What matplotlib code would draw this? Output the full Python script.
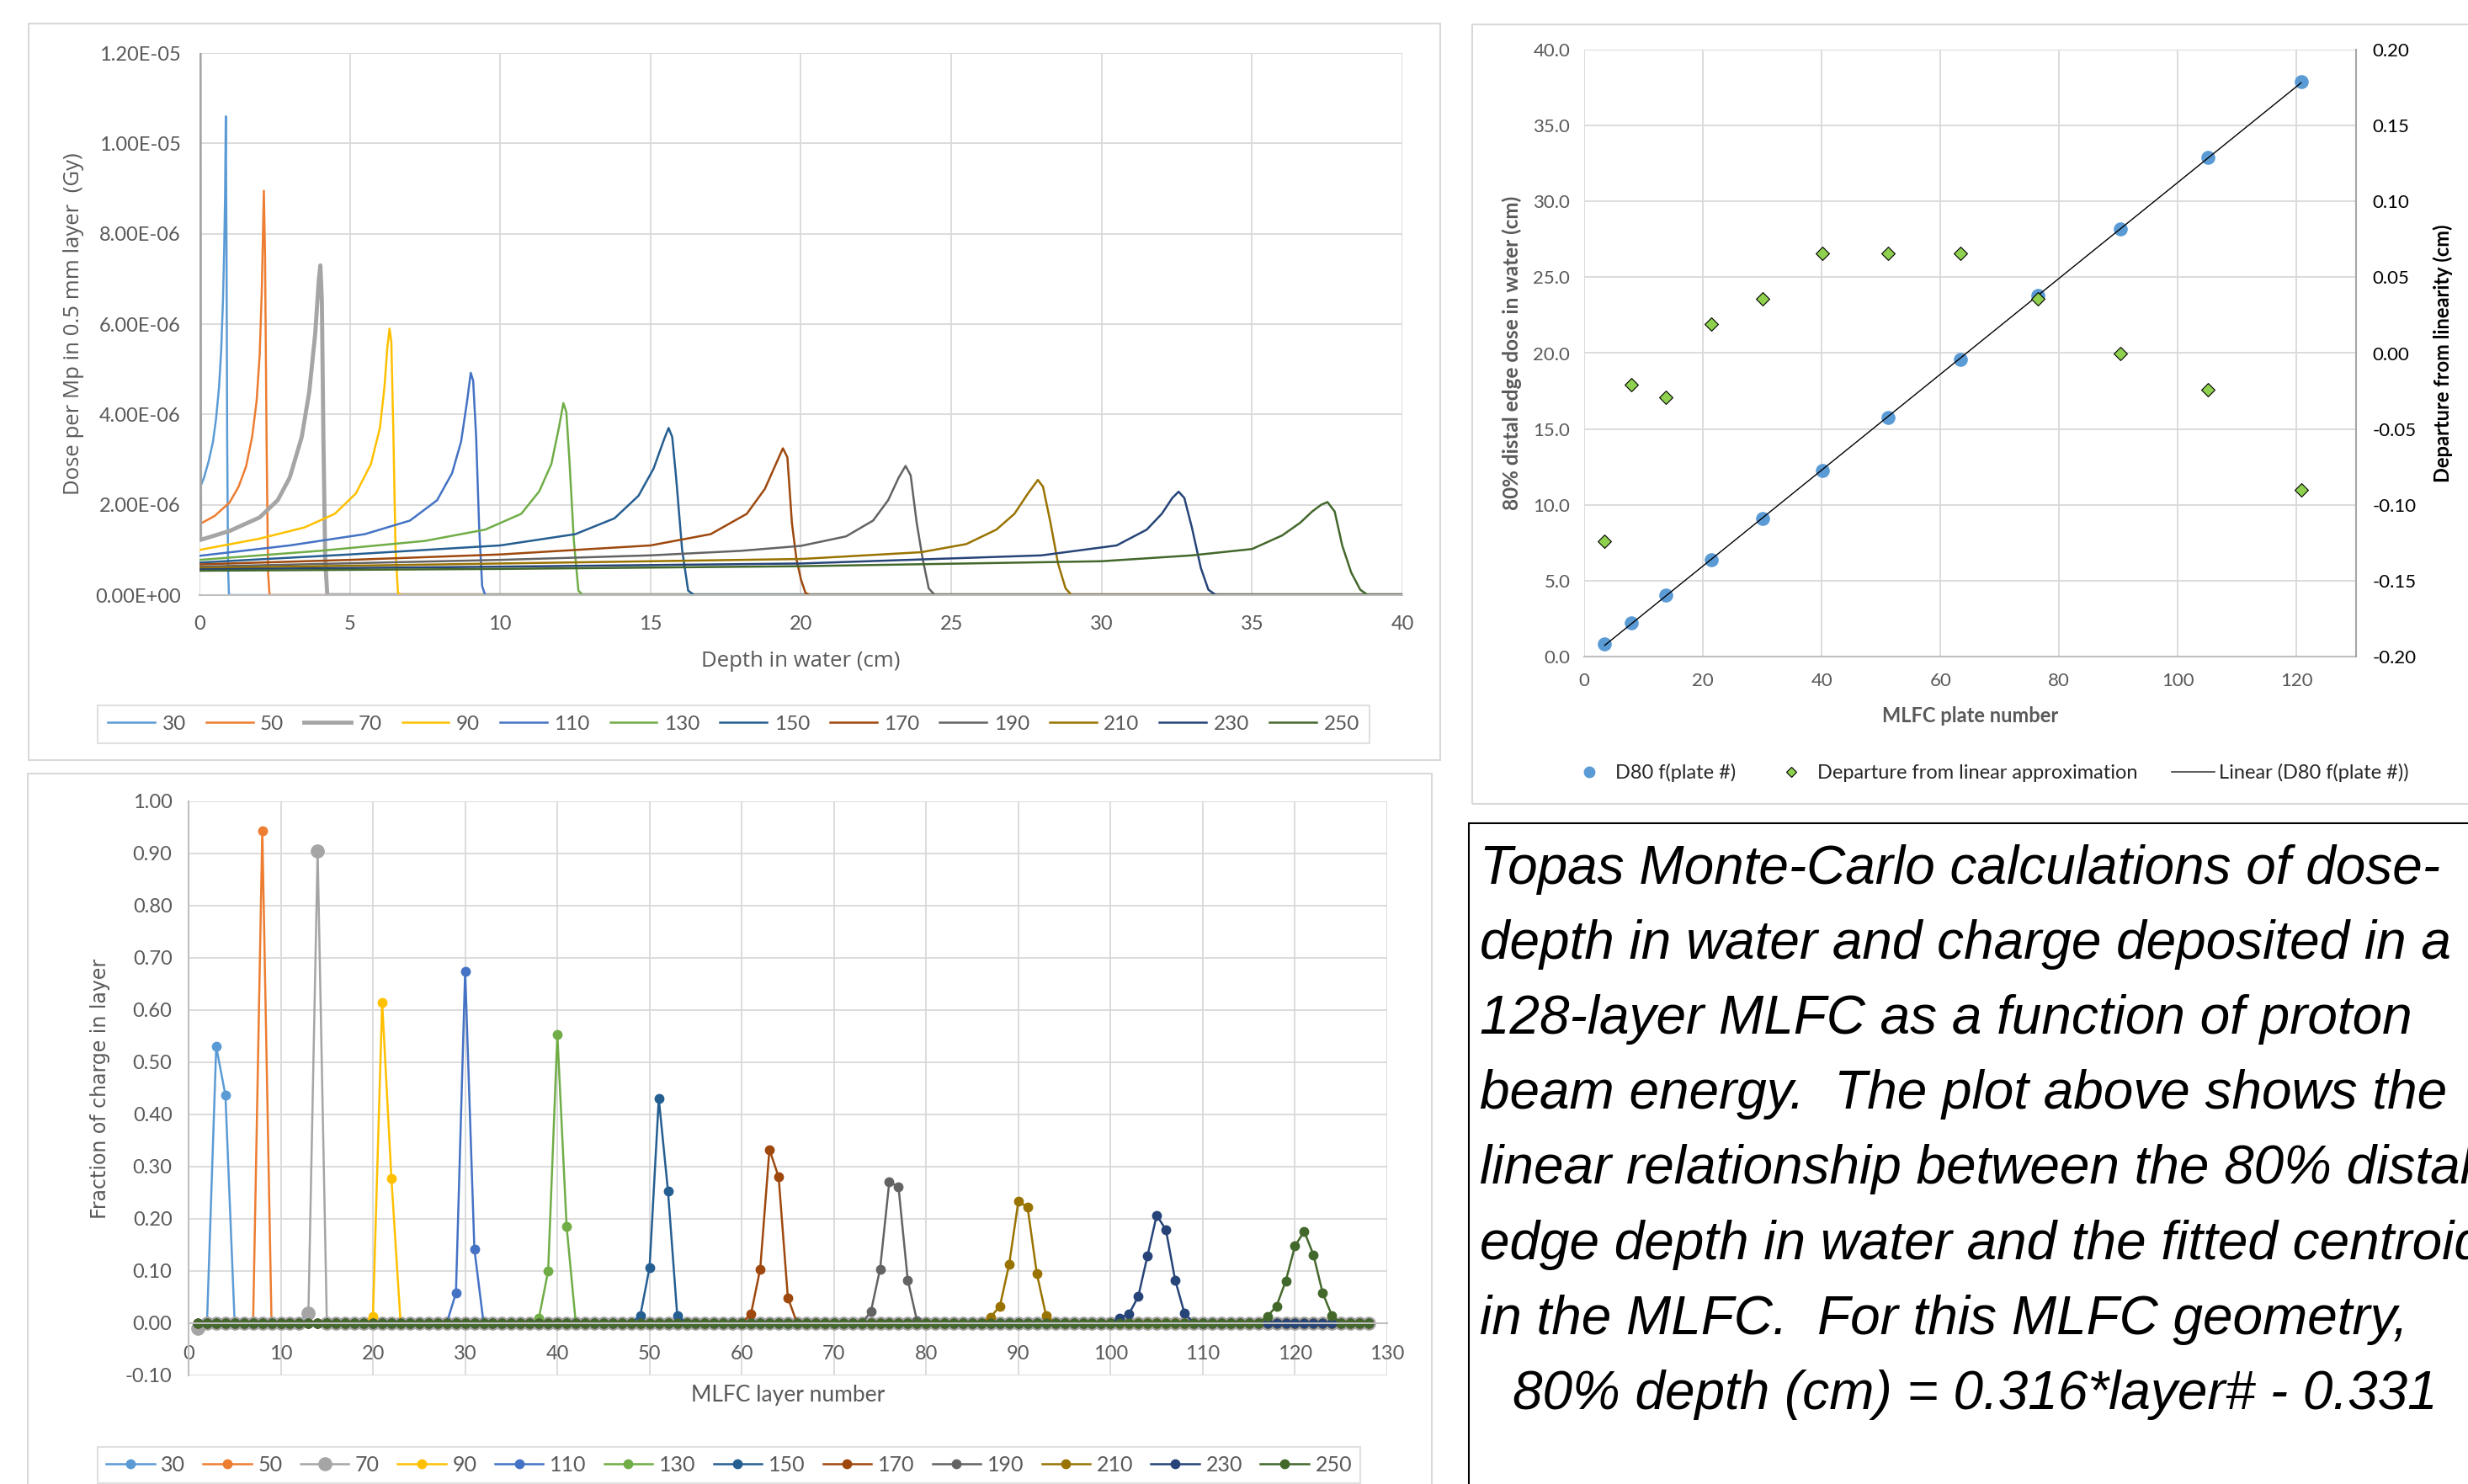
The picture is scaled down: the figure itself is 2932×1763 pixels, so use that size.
import numpy as np
import matplotlib
matplotlib.use("Agg")
import matplotlib.pyplot as plt
from matplotlib.patches import Rectangle
from matplotlib.lines import Line2D

plt.rcParams['font.family'] = ['Lato', 'DejaVu Sans']

W, H = 2932, 1763

energies = ['30', '50', '70', '90', '110', '130', '150', '170', '190', '210', '230', '250']
colors = ['#5B9BD5', '#ED7D31', '#A5A5A5', '#FFC000', '#4472C4', '#70AD47',
          '#255E91', '#9E480E', '#636363', '#997300', '#264478', '#43682B']

#   Depth-dose curves: depth (cm), dose (1e-6 Gy per Mp)
depth_30 = [0, 0.15, 0.3, 0.45, 0.55, 0.65, 0.72, 0.78, 0.82, 0.85, 0.875, 0.9, 0.92, 0.95, 0.98, 40]
dose_30 = [2.35, 2.6, 2.95, 3.4, 3.9, 4.6, 5.4, 6.5, 7.6, 8.8, 10.6, 7.5, 3.5, 0.6, 0, 0]
depth_50 = [0, 0.5, 1.0, 1.3, 1.55, 1.75, 1.9, 2.0, 2.07, 2.14, 2.18, 2.23, 2.28, 2.33, 40]
dose_50 = [1.57, 1.75, 2.05, 2.4, 2.85, 3.5, 4.3, 5.3, 6.7, 8.95, 7.5, 3.5, 0.5, 0, 0]
depth_70 = [0, 0.02, 1.0, 2.0, 2.6, 3.0, 3.4, 3.65, 3.85, 3.97, 4.02, 4.07, 4.12, 4.18, 4.25, 40]
dose_70 = [15.0, 1.22, 1.42, 1.72, 2.1, 2.6, 3.5, 4.5, 5.8, 7.0, 7.3, 6.5, 3.5, 0.8, 0, 0]
depth_90 = [0, 2, 3.5, 4.5, 5.2, 5.7, 6.0, 6.15, 6.25, 6.32, 6.38, 6.45, 6.52, 6.6, 6.7, 40]
dose_90 = [1.0, 1.25, 1.5, 1.8, 2.25, 2.9, 3.7, 4.6, 5.5, 5.9, 5.6, 3.5, 1.0, 0.05, 0, 0]
depth_110 = [0, 3, 5.5, 7.0, 7.9, 8.4, 8.7, 8.9, 9.02, 9.1, 9.2, 9.3, 9.4, 9.5, 40]
dose_110 = [0.87, 1.1, 1.35, 1.65, 2.1, 2.7, 3.4, 4.3, 4.92, 4.75, 3.5, 1.5, 0.2, 0, 0]
depth_130 = [0, 4, 7.5, 9.5, 10.7, 11.3, 11.7, 11.95, 12.1, 12.2, 12.3, 12.45, 12.6, 12.75, 40]
dose_130 = [0.78, 0.98, 1.2, 1.45, 1.8, 2.3, 2.9, 3.7, 4.25, 4.05, 3.0, 1.2, 0.1, 0, 0]
depth_150 = [0, 5, 10, 12.5, 13.8, 14.6, 15.1, 15.45, 15.6, 15.72, 15.85, 16.05, 16.25, 16.45, 40]
dose_150 = [0.72, 0.9, 1.1, 1.35, 1.7, 2.2, 2.8, 3.45, 3.7, 3.5, 2.6, 1.0, 0.1, 0, 0]
depth_170 = [0, 5, 10, 15, 17, 18.2, 18.8, 19.2, 19.4, 19.55, 19.7, 19.85, 20.0, 20.15, 20.3, 40]
dose_170 = [0.68, 0.78, 0.9, 1.1, 1.35, 1.8, 2.35, 2.95, 3.25, 3.05, 1.6, 0.8, 0.35, 0.05, 0, 0]
depth_190 = [0, 10, 15, 18, 20, 21.5, 22.4, 22.9, 23.25, 23.48, 23.65, 23.85, 24.05, 24.25, 24.45, 40]
dose_190 = [0.63, 0.78, 0.88, 0.98, 1.09, 1.3, 1.65, 2.1, 2.6, 2.86, 2.65, 1.6, 0.8, 0.15, 0, 0]
depth_210 = [0, 10, 20, 24, 25.5, 26.5, 27.1, 27.55, 27.88, 28.05, 28.3, 28.55, 28.8, 29.0, 40]
dose_210 = [0.6, 0.7, 0.8, 0.95, 1.13, 1.45, 1.8, 2.25, 2.55, 2.4, 1.6, 0.7, 0.15, 0, 0]
depth_230 = [0, 10, 20, 28, 30.5, 31.5, 32.0, 32.35, 32.56, 32.75, 33.0, 33.3, 33.55, 33.8, 40]
dose_230 = [0.57, 0.63, 0.7, 0.88, 1.1, 1.45, 1.8, 2.15, 2.29, 2.15, 1.5, 0.6, 0.12, 0, 0]
depth_250 = [0, 10, 20, 30, 33, 35, 36, 36.6, 37.0, 37.3, 37.51, 37.75, 38.0, 38.3, 38.6, 38.85, 40]
dose_250 = [0.54, 0.58, 0.64, 0.75, 0.88, 1.02, 1.32, 1.6, 1.85, 2.0, 2.06, 1.85, 1.1, 0.5, 0.12, 0, 0]

depths = [depth_30, depth_50, depth_70, depth_90, depth_110, depth_130,
          depth_150, depth_170, depth_190, depth_210, depth_230, depth_250]
doses = [dose_30, dose_50, dose_70, dose_90, dose_110, dose_130,
         dose_150, dose_170, dose_190, dose_210, dose_230, dose_250]

#   Fraction of charge per MLFC layer (layers not listed read as 0)
n_layers = 128
peaks_30 = {3: 0.53, 4: 0.437}
peaks_50 = {8: 0.944}
peaks_70 = {1: -0.01, 13: 0.02, 14: 0.905}
peaks_90 = {20: 0.013, 21: 0.615, 22: 0.278}
peaks_110 = {29: 0.058, 30: 0.675, 31: 0.142}
peaks_130 = {38: 0.01, 39: 0.10, 40: 0.553, 41: 0.186}
peaks_150 = {49: 0.015, 50: 0.107, 51: 0.43, 52: 0.253, 53: 0.015}
peaks_170 = {61: 0.018, 62: 0.104, 63: 0.333, 64: 0.28, 65: 0.049}
peaks_190 = {74: 0.022, 75: 0.104, 76: 0.271, 77: 0.261, 78: 0.083, 79: 0.005}
peaks_210 = {87: 0.012, 88: 0.033, 89: 0.113, 90: 0.234, 91: 0.222, 92: 0.095, 93: 0.015}
peaks_230 = {101: 0.01, 102: 0.018, 103: 0.051, 104: 0.129, 105: 0.207, 106: 0.179,
             107: 0.083, 108: 0.02}
peaks_250 = {117: 0.013, 118: 0.033, 119: 0.081, 120: 0.148, 121: 0.176, 122: 0.131,
             123: 0.058, 124: 0.015}
peaks = [peaks_30, peaks_50, peaks_70, peaks_90, peaks_110, peaks_130,
         peaks_150, peaks_170, peaks_190, peaks_210, peaks_230, peaks_250]

#   D80 vs fitted MLFC plate
plate = [3.45, 7.98, 13.8, 21.35, 30.08, 40.1, 51.2, 63.4, 76.4, 90.35, 105.1, 120.75]
d80 = [0.85, 2.21, 4.05, 6.36, 9.12, 12.24, 15.75, 19.6, 23.8, 28.2, 32.9, 37.9]
departure = [-0.124, -0.021, -0.029, 0.019, 0.036, 0.066, 0.066, 0.066, 0.036, 0.0, -0.024, -0.090]

note_lines = ["Topas Monte-Carlo calculations of dose-",
              "depth in water and charge deposited in a",
              "128-layer MLFC as a function of proton",
              "beam energy.  The plot above shows the",
              "linear relationship between the 80% distal",
              "edge depth in water and the fitted centroid",
              "in the MLFC.  For this MLFC geometry,",
              "80% depth (cm) = 0.316*layer# - 0.331"]

GRID = '#D9D9D9'
TXT = '#595959'


def fx(px):
    return px / W


def fy(py):
    return 1 - py / H


fig = plt.figure(figsize=(W / 100, H / 100), dpi=100)
fig.patch.set_facecolor('white')

#   chart borders
fig.patches.append(Rectangle((fx(34), fy(903)), fx(1711) - fx(34), fy(28) - fy(903),
                             transform=fig.transFigure, fill=False, ec=GRID, lw=1.5))
fig.patches.append(Rectangle((fx(33), fy(1775)), fx(1701) - fx(33), fy(919) - fy(1775),
                             transform=fig.transFigure, fill=False, ec=GRID, lw=1.5))
fig.patches.append(Rectangle((fx(1749), fy(955)), fx(2950) - fx(1749), fy(29) - fy(955),
                             transform=fig.transFigure, fill=False, ec=GRID, lw=1.5))
fig.patches.append(Rectangle((fx(1745), fy(1775)), fx(2950) - fx(1745), fy(978) - fy(1775),
                             transform=fig.transFigure, fill=False, ec='black', lw=1.5))

#   ---- top left: depth dose ----
ax1 = fig.add_axes([fx(237), fy(707), fx(1666) - fx(237), fy(63) - fy(707)])
for e, c, d, v in zip(energies, colors, depths, doses):
    lw = 3.5 if e == '70' else 1.8
    ax1.plot(d, np.array(v) * 1e-6, color=c, lw=lw, label=e, solid_joinstyle='round')
ax1.set_xlim(0, 40)
ax1.set_ylim(0, 1.2e-5)
yt = np.arange(0, 1.21e-5, 2e-6)
ax1.set_yticks(yt)
ax1.set_yticklabels([f"{v:.2E}" for v in yt])
ax1.set_xticks(np.arange(0, 41, 5))
ax1.grid(True, color=GRID, lw=1.3)
ax1.set_axisbelow(True)
for s in ['top', 'right', 'left']:
    ax1.spines[s].set_visible(False)
ax1.spines['bottom'].set_color('#BFBFBF')
ax1.spines['bottom'].set_linewidth(1.5)
ax1.tick_params(length=0, labelsize=17, colors=TXT)
ax1.tick_params(axis='y', pad=16)
ax1.tick_params(axis='x', pad=17)
ax1.set_ylabel('Dose per Mp in 0.5 mm layer  (Gy)', fontsize=18.5, color=TXT, family='Open Sans')
ax1.set_xlabel('Depth in water (cm)', fontsize=18.5, color=TXT, family='Open Sans')
ax1.yaxis.set_label_coords(-0.096, 0.5)
ax1.xaxis.set_label_coords(0.5, -0.103)
h1, l1 = ax1.get_legend_handles_labels()
leg1 = fig.legend(h1, l1, loc='center', ncol=12, mode='expand',
                  bbox_to_anchor=(fx(116), fy(885), fx(1627) - fx(116), fy(836) - fy(885)),
                  fontsize=17.5, handlelength=2.3, handletextpad=0.35, borderaxespad=0,
                  borderpad=0.5, fancybox=False, edgecolor=GRID, labelcolor=TXT)
leg1.get_frame().set_linewidth(1.5)

#   ---- bottom left: charge fraction per layer ----
ax3 = fig.add_axes([fx(224), fy(1634), fx(1648) - fx(224), fy(952) - fy(1634)])
layers = np.arange(1, n_layers + 1)
for e, c, pk in zip(energies, colors, peaks):
    frac = np.zeros(n_layers)
    for k, v in pk.items():
        frac[k - 1] = v
    ms = 11 if e == '70' else 7.5
    ax3.plot(layers, frac, color=c, lw=1.8, marker='o', ms=ms, label=e)
ax3.set_xlim(0, 130)
ax3.set_ylim(-0.1, 1.0)
ax3.set_xticks(np.arange(0, 131, 10))
yt3 = np.round(np.arange(-0.1, 1.001, 0.1), 2)
ax3.set_yticks(yt3)
ax3.set_yticklabels([f"{v:.2f}" for v in yt3])
ax3.grid(True, color=GRID, lw=1.3)
ax3.set_axisbelow(True)
for s in ['top', 'right']:
    ax3.spines[s].set_visible(False)
ax3.spines['left'].set_color('#BFBFBF')
ax3.spines['left'].set_linewidth(1.5)
ax3.spines['bottom'].set_position(('data', 0))
ax3.spines['bottom'].set_color('#BFBFBF')
ax3.spines['bottom'].set_linewidth(1.5)
ax3.tick_params(length=0, labelsize=17, colors=TXT)
ax3.tick_params(axis='y', pad=14)
ax3.tick_params(axis='x', pad=19)
ax3.set_ylabel('Fraction of charge in layer', fontsize=17, color=TXT, family='DejaVu Sans')
ax3.set_xlabel('MLFC layer number', fontsize=19, color=TXT)
ax3.yaxis.set_label_coords(-0.0653, 0.5)
ax3.xaxis.set_label_coords(0.5, -0.016)
h3, l3 = ax3.get_legend_handles_labels()
leg3 = fig.legend(h3, l3, loc='center', ncol=12, mode='expand',
                  bbox_to_anchor=(fx(116), fy(1765), fx(1616) - fx(116), fy(1715) - fy(1765)),
                  fontsize=18, handlelength=2.3, handletextpad=0.3, borderaxespad=0,
                  fancybox=False, edgecolor=GRID, labelcolor=TXT)
leg3.get_frame().set_linewidth(1.5)

#   ---- top right: D80 vs plate ----
ax4 = fig.add_axes([fx(1882), fy(780), fx(2799) - fx(1882), fy(59) - fy(780)])
ax5 = ax4.twinx()
ax4.scatter(plate, d80, s=120, color='#5B9BD5', zorder=3, label='D80 f(plate #)')
fit = np.polyfit(plate, d80, 1)
xl = np.array([plate[0], plate[-1]])
ax4.plot(xl, np.polyval(fit, xl), color='black', lw=1.0, zorder=4,
         label='Linear (D80 f(plate #))')
ax5.scatter(plate, departure, s=65, marker='D', color='#8FD14F', edgecolor='black',
            linewidth=0.8, zorder=5, label='Departure from linear approximation')
ax4.set_xlim(0, 130)
ax4.set_ylim(0, 40)
ax5.set_ylim(-0.2, 0.2)
ax4.set_xticks(np.arange(0, 121, 20))
yt4 = np.arange(0, 40.1, 5)
ax4.set_yticks(yt4)
ax4.set_yticklabels([f"{v:.1f}" for v in yt4])
yt5 = np.round(np.arange(-0.2, 0.201, 0.05), 2)
ax5.set_yticks(yt5)
ax5.set_yticklabels([f"{(v if abs(v) > 1e-9 else 0.0):.2f}" for v in yt5])
ax4.grid(True, color=GRID, lw=1.3)
ax4.set_axisbelow(True)
for a in (ax4, ax5):
    for s in ['top', 'left', 'right', 'bottom']:
        a.spines[s].set_visible(False)
ax4.spines['bottom'].set_visible(True)
ax4.spines['bottom'].set_color('#BFBFBF')
ax4.spines['bottom'].set_linewidth(1.5)
ax5.spines['right'].set_visible(True)
ax5.spines['right'].set_color('#A6A6A6')
ax5.spines['right'].set_linewidth(1.5)
ax4.tick_params(length=0, labelsize=16, colors=TXT)
ax4.tick_params(axis='y', pad=12)
ax4.tick_params(axis='x', pad=14)
ax5.tick_params(length=0, labelsize=16, colors='black', pad=14)
ax4.set_ylabel('80% distal edge dose in water (cm)', fontsize=17.5, fontweight='bold', color=TXT)
ax5.set_ylabel('Departure from linearity (cm)', fontsize=17, fontweight='bold', color='black')
ax4.set_xlabel('MLFC plate number', fontsize=17, fontweight='bold', color=TXT)
ax4.yaxis.set_label_coords(-0.0807, 0.5)
ax5.yaxis.set_label_coords(1.100, 0.5)
ax4.xaxis.set_label_coords(0.5, -0.082)
h4 = [Line2D([], [], ls='none', marker='o', ms=9, color='#5B9BD5'),
      Line2D([], [], ls='none', marker='D', ms=6, mfc='#8FD14F', mec='black', mew=0.8),
      Line2D([], [], color='#404040', lw=1.2)]
l4 = ['D80 f(plate #)', 'Departure from linear approximation', 'Linear (D80 f(plate #))']
fig.legend(h4, l4, loc='center', ncol=3, bbox_to_anchor=(fx(2362), fy(918)),
           frameon=False, fontsize=17, handlelength=2.2, columnspacing=1.7,
           handletextpad=0.2, labelcolor='#262626')

#   ---- note box ----
for i, line in enumerate(note_lines):
    x0 = 1797 if i == len(note_lines) - 1 else 1758
    fig.text(fx(x0), fy(1049.6 + 89.2 * i), line, fontsize=46, style='italic',
             family='Liberation Sans', va='baseline', ha='left', color='black')

fig.savefig('out.png', dpi=100, facecolor='white')
